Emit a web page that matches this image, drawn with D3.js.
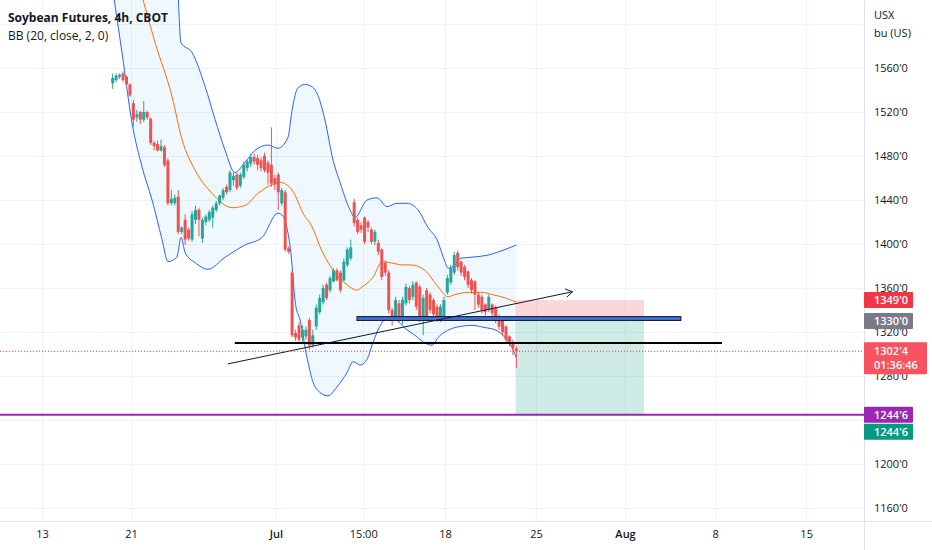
<!DOCTYPE html>
<html lang="en">
<head>
<meta charset="UTF-8">
<title>Soybean Futures, 4h, CBOT</title>
<script src="https://d3js.org/d3.v7.min.js"></script>
<style>
    body { margin: 0; background: #fff; }
    svg { display: block; font-family: "Open Sans", sans-serif; }
</style>
</head>
<body>
<svg id="chart" width="932" height="550"></svg>
<script>
    // 4h bars, [open, high, low, close] in US cents per bushel
    const candles = [
        [1546, 1555, 1541, 1551], [1549, 1555, 1547, 1553], [1552, 1555, 1550, 1554], [1555, 1557, 1547, 1549],
        [1552, 1553, 1544, 1545], [1545, 1546, 1534, 1535], [1528, 1531, 1507, 1513], [1515, 1522, 1511, 1518],
        [1520, 1521, 1509, 1513], [1513, 1530, 1511, 1520], [1520, 1521, 1513, 1515], [1514, 1515, 1490, 1492],
        [1492, 1494, 1485, 1489], [1491, 1494, 1484, 1485], [1485, 1495, 1484, 1489], [1488, 1490, 1470, 1472],
        [1476, 1478, 1435, 1437], [1437, 1449, 1435, 1441], [1437, 1445, 1435, 1442], [1443, 1449, 1409, 1411],
        [1411, 1416, 1409, 1415], [1422, 1427, 1399, 1404], [1413, 1415, 1403, 1405], [1404, 1430, 1402, 1427],
        [1422, 1435, 1418, 1431], [1431, 1433, 1407, 1422], [1405, 1424, 1401, 1422], [1420, 1427, 1417, 1425],
        [1422, 1431, 1420, 1429], [1424, 1435, 1415, 1433], [1431, 1439, 1429, 1437], [1437, 1445, 1435, 1444],
        [1442, 1451, 1440, 1449], [1452, 1454, 1445, 1447], [1449, 1467, 1447, 1465], [1458, 1465, 1453, 1462],
        [1463, 1465, 1449, 1451], [1453, 1465, 1451, 1463], [1461, 1475, 1459, 1472], [1469, 1477, 1466, 1475],
        [1473, 1482, 1470, 1479], [1479, 1482, 1472, 1475], [1478, 1481, 1467, 1472], [1476, 1479, 1466, 1469],
        [1480, 1483, 1465, 1467], [1474, 1476, 1454, 1465], [1472, 1506, 1452, 1455], [1460, 1463, 1449, 1454],
        [1463, 1465, 1431, 1447], [1437, 1451, 1435, 1449], [1447, 1449, 1393, 1395], [1396, 1398, 1391, 1393],
        [1374, 1376, 1315, 1317], [1319, 1322, 1312, 1315], [1326, 1329, 1311, 1313], [1315, 1326, 1310, 1322],
        [1316, 1325, 1313, 1322], [1331, 1333, 1304, 1308], [1308, 1322, 1306, 1317], [1325, 1345, 1322, 1342],
        [1338, 1354, 1336, 1351], [1347, 1363, 1345, 1360], [1363, 1365, 1349, 1351], [1358, 1371, 1356, 1369],
        [1366, 1378, 1365, 1376], [1376, 1378, 1366, 1367], [1374, 1376, 1356, 1358], [1367, 1387, 1366, 1384],
        [1381, 1397, 1379, 1395], [1387, 1404, 1385, 1397], [1438, 1441, 1416, 1419], [1422, 1424, 1409, 1411],
        [1417, 1420, 1410, 1413], [1424, 1425, 1400, 1402], [1420, 1422, 1411, 1415], [1413, 1415, 1400, 1402],
        [1402, 1413, 1399, 1411], [1401, 1404, 1390, 1393], [1395, 1396, 1367, 1370], [1383, 1385, 1371, 1374],
        [1374, 1376, 1337, 1340], [1340, 1342, 1326, 1331], [1334, 1352, 1331, 1349], [1346, 1349, 1329, 1333],
        [1331, 1352, 1327, 1349], [1346, 1364, 1344, 1361], [1360, 1362, 1346, 1349], [1352, 1366, 1349, 1363],
        [1365, 1366, 1340, 1343], [1361, 1363, 1329, 1333], [1331, 1354, 1317, 1351], [1358, 1360, 1331, 1334],
        [1354, 1356, 1337, 1340], [1349, 1351, 1333, 1336], [1343, 1345, 1329, 1331], [1331, 1345, 1329, 1343],
        [1333, 1352, 1331, 1349], [1356, 1372, 1354, 1369], [1365, 1381, 1363, 1378], [1374, 1393, 1372, 1390],
        [1392, 1394, 1376, 1379], [1384, 1385, 1371, 1374], [1379, 1381, 1367, 1370], [1375, 1376, 1360, 1363],
        [1367, 1369, 1355, 1358], [1366, 1367, 1340, 1354], [1354, 1356, 1342, 1345], [1352, 1354, 1337, 1340],
        [1345, 1346, 1335, 1338], [1340, 1354, 1338, 1352], [1345, 1346, 1334, 1337], [1342, 1344, 1328, 1331],
        [1334, 1336, 1322, 1325], [1331, 1333, 1317, 1320], [1325, 1326, 1310, 1313], [1316, 1317, 1307, 1310],
        [1311, 1313, 1299, 1305], [1305, 1307, 1287, 1302.5]
    ];

    // Bollinger Bands (20, close, 2): [bar, price]
    const upperBand = [
        [18.9, 1635], [19.8, 1583], [23, 1574], [26.8, 1543], [29.7, 1513], [32.6, 1485], [35.4, 1465],
        [38.3, 1474], [41.2, 1485], [45, 1490], [47.9, 1487], [50.8, 1497], [52, 1522], [53.7, 1542],
        [55.7, 1545], [57.8, 1543], [59.5, 1535], [61.5, 1513], [63.9, 1476], [65.9, 1456], [68.8, 1431],
        [70.2, 1424], [73.7, 1440], [76.6, 1442], [79.5, 1434], [82.4, 1437], [85.3, 1437], [88.5, 1431],
        [91.4, 1415], [94, 1404], [96.3, 1384], [97.2, 1378], [99.2, 1381], [100.7, 1387], [104.1, 1388],
        [108.8, 1390], [113.7, 1395], [117, 1399]
    ];
    const middleBand = [
        [8, 1631], [12.3, 1583], [17.2, 1534], [20.1, 1495], [23.9, 1467], [28.8, 1446], [34.6, 1433],
        [38.3, 1435], [42.1, 1446], [46.2, 1454], [48.5, 1456], [52, 1449], [55.7, 1425], [57.2, 1419],
        [60.9, 1392], [63.9, 1376], [67.9, 1363], [70.8, 1358], [72.3, 1361], [75.5, 1370], [78.1, 1384],
        [80.4, 1383], [84.1, 1381], [86.2, 1381], [90.5, 1376], [94.3, 1361], [97.2, 1352], [99.2, 1354],
        [103, 1356], [107, 1356], [110, 1354], [113.7, 1351], [117, 1347]
    ];
    const lowerBand = [
        [0, 1631], [2.7, 1574], [5.6, 1510], [8.5, 1470], [11.4, 1440], [14.3, 1404], [16, 1384],
        [18.6, 1388], [19.8, 1406], [21, 1392], [23.9, 1383], [27.6, 1377], [32.6, 1388], [38.3, 1399],
        [43.3, 1406], [47.9, 1428], [49.4, 1425], [50.8, 1410], [51.5, 1396], [53, 1345], [54.3, 1331],
        [56.3, 1297], [58.1, 1274], [60.1, 1265], [62.4, 1262], [65, 1270], [67.9, 1283], [69.7, 1293],
        [71.7, 1290], [73.7, 1295], [75.4, 1310], [77.4, 1325], [80.3, 1334], [85.3, 1322], [87.6, 1317],
        [90.5, 1310], [92.6, 1308], [94.3, 1315], [96.3, 1320], [99.2, 1324], [104.1, 1326], [107.9, 1324],
        [110.8, 1322], [113.7, 1315], [115.7, 1306], [117, 1297]
    ];

    const priceTicks = [1160, 1200, 1240, 1280, 1320, 1360, 1400, 1440, 1480, 1520, 1560];
    const hiddenPriceLabels = [1240]; // covered by the target tags
    const timeTickBars = [-20.5, 5.3, 47.3, 72.6, 96.3, 122.7, 148.5, 174.6, 201];
    const timeTickLabels = ["13", "21", "Jul", "15:00", "18", "25", "Aug", "8", "15"];

    // drawings on the chart
    const trendLine = [[33.4, 1291], [133.3, 1356.6]];
    const supportLine = [[35.4, 1310], [176.6, 1310]];
    const resistanceBox = [[70.8, 1334], [164.7, 1330.5]];
    const shortPosition = { from: 116.8, to: 154, entry: 1330, stop: 1349, target: 1244.75 };
    const targetLevel = 1244.75;
    const lastPrice = 1302.5;

    const W = 932, H = 550, plotW = 864, plotH = 521;
    const barStep = 3.45, firstBarX = 112.7;

    const svg = d3.select("#chart");

    const x = d3.scaleLinear()
        .domain([0, 117])
        .range([firstBarX, firstBarX + 117 * barStep]);

    const y = d3.scaleLinear()
        .domain([1160, 1560])
        .range([508, 68]);

    svg.append("defs").append("clipPath").attr("id", "plot-clip")
        .append("rect").attr("x", 0).attr("y", 0).attr("width", plotW).attr("height", plotH);

    // grid
    const grid = svg.append("g").attr("stroke", "#f0f3fa").attr("stroke-width", 1);
    grid.selectAll("line.h")
        .data(priceTicks.concat([1600]))
        .join("line")
        .attr("class", "h")
        .attr("x1", 0).attr("x2", plotW)
        .attr("y1", d => Math.round(y(d)) + 0.5).attr("y2", d => Math.round(y(d)) + 0.5);
    grid.selectAll("line.v")
        .data(timeTickBars)
        .join("line")
        .attr("class", "v")
        .attr("y1", 0).attr("y2", plotH)
        .attr("x1", d => Math.round(x(d)) + 0.5).attr("x2", d => Math.round(x(d)) + 0.5);

    const plot = svg.append("g").attr("clip-path", "url(#plot-clip)");

    // Bollinger bands
    const bandLine = d3.line()
        .x(d => x(d[0]))
        .y(d => y(d[1]))
        .curve(d3.curveMonotoneX);

    const fillPath = bandLine(upperBand) + bandLine(lowerBand.slice().reverse()).replace(/^M/, "L") + "Z";
    plot.append("path")
        .attr("d", fillPath)
        .attr("fill", "rgba(33,150,243,0.07)");

    // position tool (short)
    const pos = plot.append("g");
    pos.append("rect")
        .attr("x", x(shortPosition.from)).attr("width", x(shortPosition.to) - x(shortPosition.from))
        .attr("y", y(shortPosition.stop)).attr("height", y(shortPosition.entry) - y(shortPosition.stop))
        .attr("fill", "rgba(242,54,69,0.2)");
    pos.append("rect")
        .attr("x", x(shortPosition.from)).attr("width", x(shortPosition.to) - x(shortPosition.from))
        .attr("y", y(shortPosition.entry)).attr("height", y(shortPosition.target) - y(shortPosition.entry))
        .attr("fill", "rgba(8,153,129,0.2)");

    plot.append("path").attr("d", bandLine(upperBand)).attr("fill", "none").attr("stroke", "#2962ff").attr("stroke-width", 1);
    plot.append("path").attr("d", bandLine(lowerBand)).attr("fill", "none").attr("stroke", "#2962ff").attr("stroke-width", 1);
    plot.append("path").attr("d", bandLine(middleBand)).attr("fill", "none").attr("stroke", "#ff6d00").attr("stroke-width", 1);

    // candles
    const up = "#26a69a", down = "#ef5350";
    const candle = plot.append("g")
        .selectAll("g")
        .data(candles)
        .join("g")
        .attr("fill", d => d[3] >= d[0] ? up : down)
        .attr("stroke", d => d[3] >= d[0] ? up : down);

    candle.append("line")
        .attr("x1", (d, i) => x(i)).attr("x2", (d, i) => x(i))
        .attr("y1", d => y(d[1])).attr("y2", d => y(d[2]))
        .attr("stroke-width", 1);

    candle.append("rect")
        .attr("stroke", "none")
        .attr("x", (d, i) => x(i) - 1.5)
        .attr("width", 3)
        .attr("y", d => y(Math.max(d[0], d[3])))
        .attr("height", d => Math.max(1, Math.abs(y(d[0]) - y(d[3]))));

    // drawings
    plot.append("rect")
        .attr("x", x(resistanceBox[0][0]))
        .attr("width", x(resistanceBox[1][0]) - x(resistanceBox[0][0]))
        .attr("y", y(resistanceBox[0][1]))
        .attr("height", y(resistanceBox[1][1]) - y(resistanceBox[0][1]))
        .attr("fill", "#3d6fd6")
        .attr("stroke", "#131722")
        .attr("stroke-width", 1);

    plot.append("line")
        .attr("x1", x(supportLine[0][0])).attr("x2", x(supportLine[1][0]))
        .attr("y1", y(supportLine[0][1])).attr("y2", y(supportLine[1][1]))
        .attr("stroke", "#000").attr("stroke-width", 2);

    const tx1 = x(trendLine[0][0]), ty1 = y(trendLine[0][1]);
    const tx2 = x(trendLine[1][0]), ty2 = y(trendLine[1][1]);
    const ang = Math.atan2(ty2 - ty1, tx2 - tx1);
    plot.append("line")
        .attr("x1", tx1).attr("y1", ty1).attr("x2", tx2).attr("y2", ty2)
        .attr("stroke", "#131722").attr("stroke-width", 1);
    plot.append("path")
        .attr("d", d3.line()([
            [tx2 - 8 * Math.cos(ang - 0.55), ty2 - 8 * Math.sin(ang - 0.55)],
            [tx2, ty2],
            [tx2 - 8 * Math.cos(ang + 0.55), ty2 - 8 * Math.sin(ang + 0.55)]
        ]))
        .attr("fill", "none").attr("stroke", "#131722").attr("stroke-width", 1);

    // last price dotted line and target level
    plot.append("line")
        .attr("x1", 0).attr("x2", plotW)
        .attr("y1", y(lastPrice)).attr("y2", y(lastPrice))
        .attr("stroke", "#f23645").attr("stroke-width", 1).attr("stroke-dasharray", "1,2");
    svg.append("line")
        .attr("x1", 0).attr("x2", plotW)
        .attr("y1", y(targetLevel)).attr("y2", y(targetLevel))
        .attr("stroke", "#9c27b0").attr("stroke-width", 2);

    // axes frame
    svg.append("line").attr("x1", plotW + 0.5).attr("x2", plotW + 0.5).attr("y1", 0).attr("y2", H)
        .attr("stroke", "#e0e3eb");
    svg.append("line").attr("x1", 0).attr("x2", W).attr("y1", plotH + 0.5).attr("y2", plotH + 0.5)
        .attr("stroke", "#e0e3eb");

    // price axis
    const yAxis = svg.append("g")
        .attr("transform", `translate(${plotW},0)`)
        .call(d3.axisRight(y)
            .tickValues(priceTicks.filter(d => !hiddenPriceLabels.includes(d)))
            .tickSize(0).tickPadding(10).tickFormat(d => d + "'0"));
    yAxis.select(".domain").remove();
    yAxis.selectAll("text").attr("fill", "#131722").attr("font-size", 11).attr("font-family", "Open Sans, sans-serif");

    svg.append("text").attr("x", 874).attr("y", 19).attr("font-size", 11).attr("fill", "#131722").text("USX");
    svg.append("text").attr("x", 874).attr("y", 37).attr("font-size", 11).attr("fill", "#131722").text("bu (US)");

    // time axis
    const xAxis = svg.append("g")
        .attr("transform", `translate(0,${plotH})`)
        .call(d3.axisBottom(x).tickValues(timeTickBars).tickSize(0).tickPadding(9)
            .tickFormat((d, i) => timeTickLabels[i]));
    xAxis.select(".domain").remove();
    xAxis.selectAll("text")
        .attr("fill", "#131722").attr("font-size", 11).attr("font-family", "Open Sans, sans-serif")
        .attr("font-weight", (d, i) => /[A-Za-z]/.test(timeTickLabels[i]) ? 600 : 400);

    // price labels on the axis
    const fmt = v => {
        const whole = Math.floor(v);
        return whole + "'" + Math.round((v - whole) * 8);
    };
    const axisTags = [
        { price: shortPosition.stop, color: "#f23645", lines: [fmt(shortPosition.stop)] },
        { price: shortPosition.entry, color: "#787b86", lines: [fmt(shortPosition.entry)] },
        { price: lastPrice, color: "#f7525f", lines: [fmt(lastPrice), "01:36:46"], wide: true },
        { price: targetLevel, color: "#9c27b0", lines: [fmt(targetLevel)] },
        { price: targetLevel, color: "#089981", lines: [fmt(targetLevel)], shift: 17 }
    ];
    const tag = svg.append("g").selectAll("g")
        .data(axisTags)
        .join("g")
        .attr("transform", d => `translate(${plotW},${y(d.price) + (d.shift || 0)})`);
    tag.append("rect")
        .attr("x", 0).attr("width", d => d.wide ? 63 : 49)
        .attr("y", d => d.lines.length > 1 ? -9 : -8)
        .attr("height", d => d.lines.length > 1 ? 32 : 16)
        .attr("rx", 1)
        .attr("fill", d => d.color);
    tag.selectAll("text")
        .data(d => d.lines)
        .join("text")
        .attr("x", 10)
        .attr("y", (d, i) => 4 + i * 14)
        .attr("fill", "#fff")
        .attr("font-size", 11)
        .attr("font-weight", 600)
        .text(d => d);

    // legend
    svg.append("text").attr("x", 8).attr("y", 22)
        .attr("font-size", 12).attr("font-weight", 700).attr("fill", "#131722")
        .text("Soybean Futures, 4h, CBOT");
    svg.append("text").attr("x", 8).attr("y", 40)
        .attr("font-size", 12).attr("fill", "#131722")
        .text("BB (20, close, 2, 0)");
</script>
</body>
</html>
